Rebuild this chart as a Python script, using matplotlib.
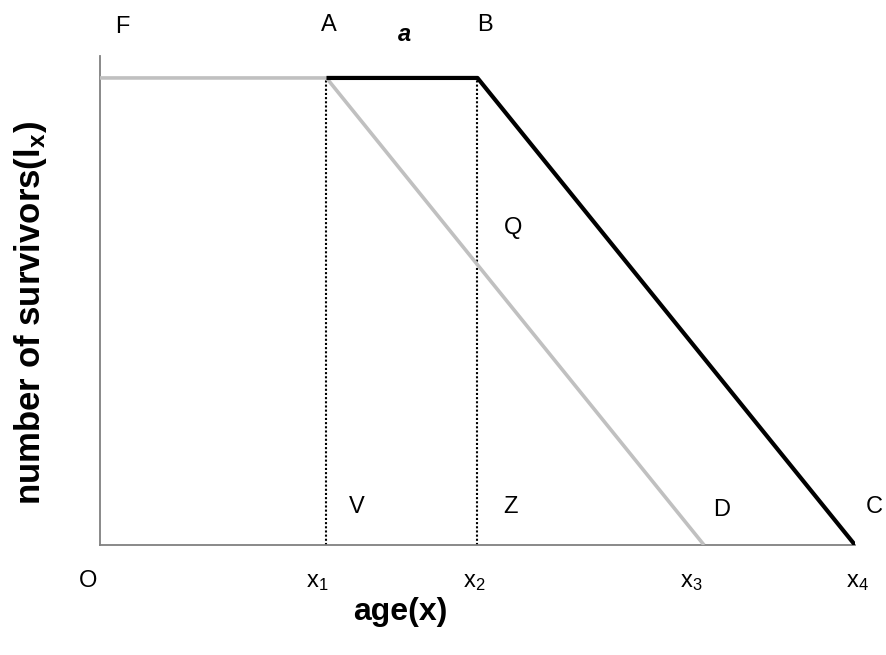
"""
Survivorship diagram: number of survivors (l_x) against age (x),
a delayed-onset curve (black) and an early-onset curve (grey).
"""
import matplotlib
matplotlib.use("Agg")
import matplotlib.pyplot as plt

plt.rcParams["font.family"] = ["Liberation Sans", "DejaVu Sans"]
plt.rcParams["mathtext.fontset"] = "custom"
plt.rcParams["mathtext.rm"] = "Liberation Sans"
plt.rcParams["mathtext.it"] = "Liberation Sans:italic"
plt.rcParams["mathtext.bf"] = "Liberation Sans:bold"

# ages of the breakpoints x1..x4 and survivors at the plateau
x_ticks = [0, 3, 5, 8, 10]
tick_labels = ["O", r"x$_{1}$", r"x$_{2}$", r"x$_{3}$", r"x$_{4}$"]

black_age = [3, 5, 10]
black_surv = [100, 100, 0]
grey_age = [0, 3, 8]
grey_surv = [100, 100, 0]
dotted_ages = [3, 5]

# point labels: (text, x, y)
point_labels = [
    ("F", 0.30, 110.9),
    ("A", 3.03, 111.3),
    ("B", 5.10, 111.3),
    ("Q", 5.47, 67.9),
    ("V", 3.40, 8.1),
    ("Z", 5.44, 8.1),
    ("D", 8.24, 7.5),
    ("C", 10.25, 8.1),
]

W, H = 887, 655
fig = plt.figure(figsize=(W / 100, H / 100), dpi=100)
ax = fig.add_axes([100 / W, (H - 545) / H, 755 / W, 489 / H])

for xa in dotted_ages:
    ax.plot([xa, xa], [0, 100], color="black", lw=1.5, ls=(0, (1, 1)), zorder=2)
ax.plot(grey_age, grey_surv, color="#c0c0c0", lw=2.6, solid_capstyle="butt", zorder=3)
ax.plot(black_age, black_surv, color="black", lw=3.0, solid_capstyle="butt", zorder=4)

ax.set_xlim(0, 10)
ax.set_ylim(0, 104.7)
ax.set_xticks([])
ax.set_yticks([])
for side in ("top", "right"):
    ax.spines[side].set_visible(False)
for side in ("left", "bottom"):
    ax.spines[side].set_color("#808080")
    ax.spines[side].set_linewidth(1.3)

for txt, x, y in point_labels:
    ax.text(x, y, txt, fontsize=17, ha="center", va="center", clip_on=False)
ax.text(4.03, 109.4, "a", fontsize=17, fontweight="bold", fontstyle="italic",
        ha="center", va="center", clip_on=False)

tick_x_px = [88, 317, 474, 691, 857]
for px, lab in zip(tick_x_px, tick_labels):
    ax.text((px - 100) / 75.5, -9.0, lab, fontsize=17, ha="center",
            va="baseline", clip_on=False)

fig.text(31 / W, (H - 313) / H, r"number of survivors(l$_{\mathbf{x}}$)",
         rotation=90, fontsize=25, fontweight="bold", ha="center", va="center")
fig.text(400 / W, (H - 612) / H, "age(x)", fontsize=23, fontweight="bold",
         ha="center", va="center")

fig.savefig("out.png", dpi=100)
